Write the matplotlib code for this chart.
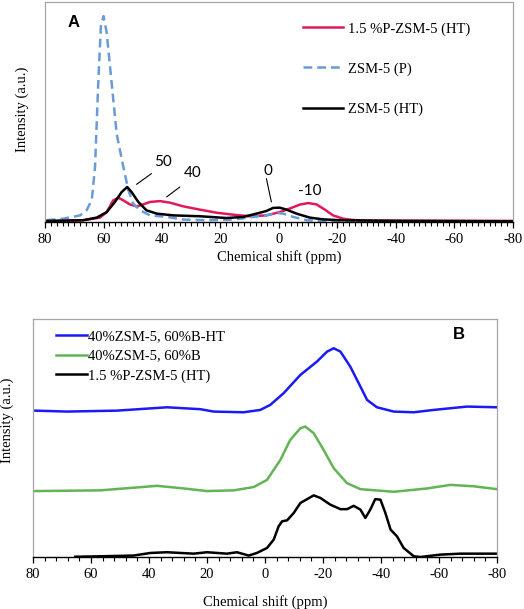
import matplotlib
matplotlib.use("Agg")
import matplotlib.pyplot as plt
from matplotlib.ticker import MultipleLocator

plt.rcParams['font.family'] = ['Liberation Serif', 'DejaVu Serif']
plt.rcParams['axes.unicode_minus'] = False

# ---- panel A data (ppm, intensity a.u.) ----
p_zsm_x = [79.4, 73.7, 68.0, 65.8, 64.0, 62.9, 61.8, 60.9, 60.0, 58.9, 57.2, 55.5, 53.2,
           51.5, 49.8, 47.5, 44.1, 38.4, 32.7, 24.8, 15.6, 8.8, 4.3, 0.8, -1.4, -4.9,
           -9.4, -18.5, -40.0, -80.0]
p_zsm_y = [0.008, 0.015, 0.030, 0.053, 0.100, 0.250, 0.630, 0.890, 0.936, 0.860, 0.630,
           0.400, 0.250, 0.144, 0.083, 0.053, 0.030, 0.023, 0.011, 0.008, 0.011, 0.023,
           0.030, 0.041, 0.038, 0.023, 0.008, 0.002, 0.002, 0.002]

ht_p_x = [79.4, 66.9, 61.2, 58.9, 56.7, 54.9, 53.2, 51.0, 48.7, 46.4, 44.1, 40.7, 37.3,
          32.7, 27.0, 21.3, 15.6, 10.0, 4.3, -0.3, -3.7, -7.1, -10.0, -12.8, -15.7,
          -18.5, -21.9, -25.3, -29.9, -41.3, -80.0]
ht_p_y = [0.003, 0.008, 0.020, 0.045, 0.098, 0.110, 0.098, 0.080, 0.071, 0.080, 0.091,
          0.095, 0.088, 0.071, 0.056, 0.042, 0.033, 0.026, 0.030, 0.045, 0.061, 0.079,
          0.086, 0.080, 0.056, 0.030, 0.015, 0.009, 0.006, 0.006, 0.005]

ht_x = [79.4, 66.9, 62.3, 58.9, 56.1, 53.8, 51.9, 50.4, 48.1, 45.3, 41.8, 36.2, 27.0,
        17.9, 12.2, 7.7, 4.3, 2.0, -0.3, -2.6, -6.0, -10.5, -15.0, -20.8, -41.3, -80.0]
ht_y = [0.005, 0.008, 0.020, 0.045, 0.091, 0.136, 0.159, 0.136, 0.091, 0.053, 0.038,
        0.030, 0.026, 0.018, 0.023, 0.038, 0.050, 0.064, 0.065, 0.056, 0.038, 0.020,
        0.012, 0.008, 0.005, 0.003]

labels_a = ["1.5 %P-ZSM-5 (HT)", "ZSM-5 (P)", "ZSM-5 (HT)"]

notes_text = ["50", "40", "0", "-10"]
notes_xy = [(39.6, 0.273), (29.5, 0.223), (3.7, 0.230), (-10.5, 0.139)]
leader_from = [(48.7, 0.171), (38.4, 0.114), (2.6, 0.091)]
leader_to = [(43.6, 0.220), (33.9, 0.159), (4.3, 0.197)]

# ---- panel B data ----
bht_x = [79.2, 68.3, 51.0, 33.8, 22.3, 17.7, 7.4, 1.6, -1.8, -6.4, -12.2, -17.9, -21.4,
         -23.7, -26.0, -29.4, -32.9, -35.2, -38.6, -44.4, -51.3, -58.2, -69.7, -80.0]
bht_y = [0.615, 0.611, 0.615, 0.629, 0.621, 0.611, 0.608, 0.618, 0.639, 0.688, 0.765,
         0.821, 0.863, 0.877, 0.863, 0.800, 0.716, 0.660, 0.629, 0.611, 0.608, 0.618,
         0.632, 0.629]

b_x = [79.2, 56.8, 37.2, 28.0, 20.0, 10.8, 3.9, -0.7, -5.3, -8.7, -12.2, -13.9, -16.8,
       -20.2, -23.7, -28.3, -32.9, -44.4, -55.9, -63.9, -72.0, -80.0]
b_y = [0.277, 0.280, 0.299, 0.288, 0.277, 0.280, 0.294, 0.324, 0.408, 0.492, 0.541,
       0.548, 0.520, 0.450, 0.373, 0.310, 0.285, 0.274, 0.288, 0.303, 0.297, 0.285]

pz_x = [65.4, 56.8, 45.3, 39.5, 33.8, 24.6, 20.0, 13.1, 9.7, 5.6, 2.8, -0.7, -3.0, -4.7,
        -5.9, -7.6, -9.9, -12.2, -14.5, -16.8, -19.1, -22.5, -26.0, -28.3, -30.6, -32.9,
        -34.6, -36.3, -38.0, -39.8, -41.5, -43.3, -45.5, -47.8, -51.3, -53.6, -60.5,
        -67.4, -80.0]
pz_y = [0.001, 0.003, 0.006, 0.017, 0.020, 0.014, 0.020, 0.014, 0.020, 0.006, 0.017,
        0.038, 0.073, 0.129, 0.150, 0.154, 0.185, 0.227, 0.243, 0.259, 0.248, 0.220,
        0.201, 0.201, 0.215, 0.199, 0.164, 0.199, 0.243, 0.241, 0.185, 0.115, 0.087,
        0.038, 0.003, 0.000, 0.010, 0.014, 0.014]

labels_b = ["40%ZSM-5, 60%B-HT", "40%ZSM-5, 60%B", "1.5 %P-ZSM-5 (HT)"]

ticks = [80, 60, 40, 20, 0, -20, -40, -60, -80]
frame_gray = "#A6A6A6"


def style_axes(ax, minor):
    ax.set_xlim(80, -80)
    ax.set_ylim(0, 1)
    ax.set_xticks(ticks)
    ax.set_xticklabels([str(t) for t in ticks])
    ax.xaxis.set_minor_locator(MultipleLocator(minor))
    ax.set_yticks([])
    for s in ["left", "top", "right"]:
        ax.spines[s].set_color(frame_gray)
        ax.spines[s].set_linewidth(0.9)
    ax.spines["bottom"].set_color("black")
    ax.spines["bottom"].set_linewidth(1.0)
    ax.tick_params(axis="x", which="major", length=4, width=0.9, labelsize=10.5, pad=4)
    ax.tick_params(axis="x", which="minor", length=3, width=0.8)
    ax.set_xlabel("Chemical shift (ppm)", fontsize=10.5)
    ax.set_ylabel("Intensity (a.u.)", fontsize=10.5)


fig = plt.figure(figsize=(5.24, 6.09), dpi=100)

# panel A
ax1 = fig.add_axes([0.0859, 0.6355, 0.893, 0.3612])
ax1.plot(ht_p_x, ht_p_y, color="#E2185B", lw=1.8, label=labels_a[0])
ax1.plot(p_zsm_x, p_zsm_y, color="#6A9BD8", lw=1.8, dashes=(3.5, 2), label=labels_a[1])
ax1.plot(ht_x, ht_y, color="black", lw=1.8, label=labels_a[2])
style_axes(ax1, 2)
ax1.xaxis.labelpad = 3
ax1.yaxis.set_label_coords(-0.034, 0.51)
for t, xy in zip(notes_text, notes_xy):
    ax1.text(xy[0], xy[1], t, family="Lato", fontsize=11, ha="center", va="center")
for a, b in zip(leader_from, leader_to):
    ax1.annotate("", xy=a, xytext=b, arrowprops=dict(arrowstyle="-", lw=0.8, color="black",
                                                     shrinkA=0, shrinkB=0))
ax1.text(0.06, 0.905, "A", transform=ax1.transAxes, family="Liberation Sans",
         fontweight="bold", fontsize=12, ha="center", va="center")
ax1.legend(loc="upper left", bbox_to_anchor=(0.552, 0.908), frameon=False, fontsize=10.5,
           handlelength=2.75, handletextpad=0.3, labelspacing=1.82, borderpad=0,
           borderaxespad=0)

# panel B
ax2 = fig.add_axes([0.063, 0.0854, 0.8855, 0.3908])
ax2.plot(bht_x, bht_y, color="#1A1AF5", lw=1.8, label=labels_b[0])
ax2.plot(b_x, b_y, color="#62B454", lw=1.8, label=labels_b[1])
ax2.plot(pz_x, pz_y, color="black", lw=1.8, label=labels_b[2])
style_axes(ax2, 4)
ax2.xaxis.labelpad = 10
ax2.yaxis.set_label_coords(-0.040, 0.575)
ax2.text(0.918, 0.933, "B", transform=ax2.transAxes, family="Liberation Sans",
         fontweight="bold", fontsize=12, ha="center", va="center")
ax2.legend(loc="upper left", bbox_to_anchor=(0.05, 0.955), frameon=False, fontsize=10.5,
           handlelength=2.1, handletextpad=0.1, labelspacing=0.45, borderpad=0,
           borderaxespad=0)

fig.savefig("out.png", dpi=100)
